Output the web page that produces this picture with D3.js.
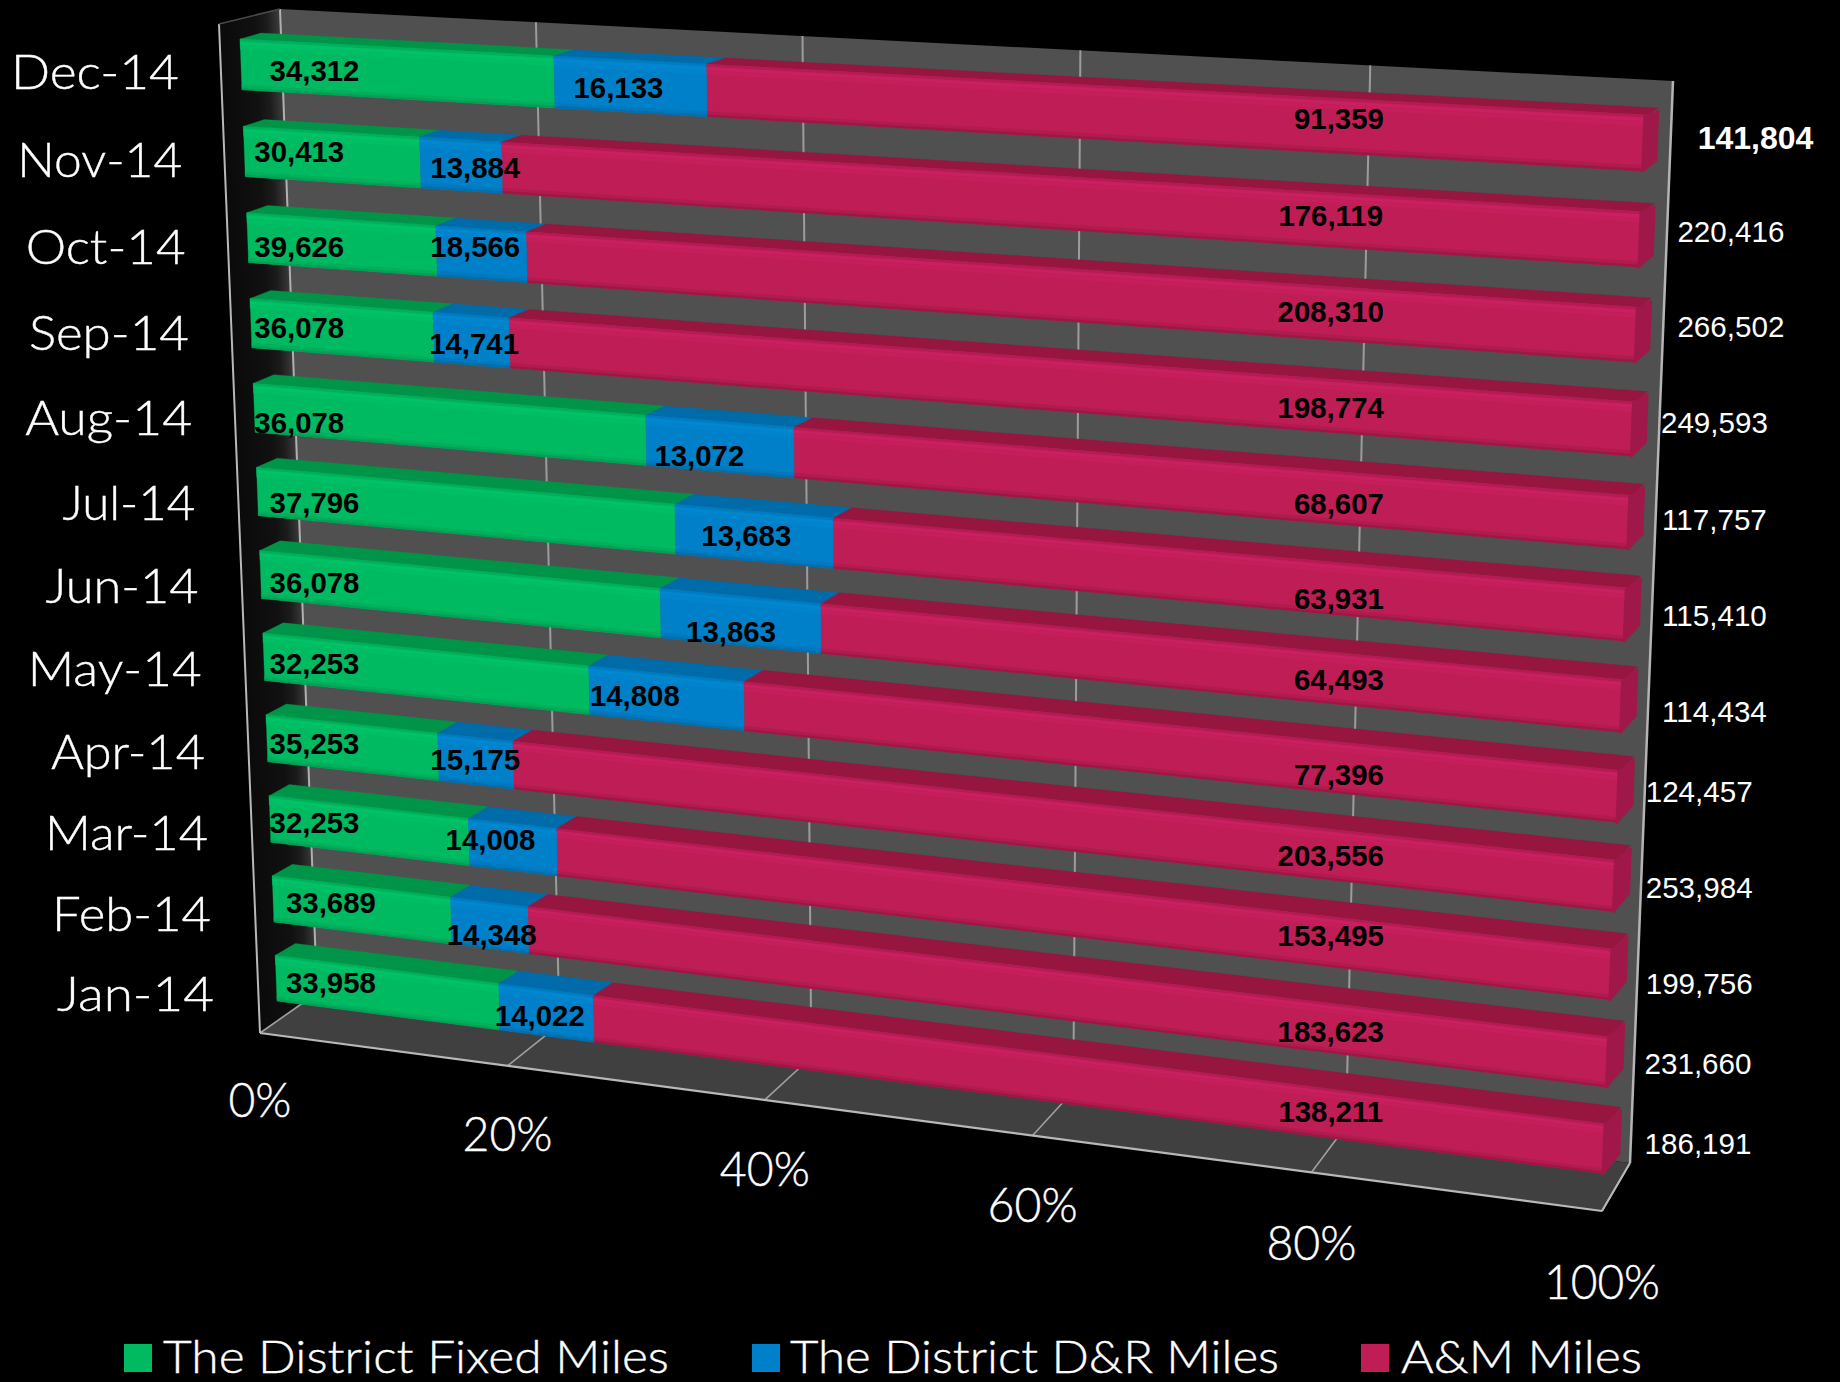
<!DOCTYPE html>
<html><head><meta charset="utf-8">
<script src="https://cdn.jsdelivr.net/npm/d3@7"></script>
<style>html,body{margin:0;background:#000}svg{display:block}</style></head>
<body><svg id="c" width="1840" height="1382"></svg>
<script>
// ---------- data ----------
const categories = ["Dec-14","Nov-14","Oct-14","Sep-14","Aug-14","Jul-14","Jun-14","May-14","Apr-14","Mar-14","Feb-14","Jan-14"];
const fixedMiles = [34312,30413,39626,36078,36078,37796,36078,32253,35253,32253,33689,33958];
const drMiles    = [16133,13884,18566,14741,13072,13683,13863,14808,15175,14008,14348,14022];
const amMiles    = [91359,176119,208310,198774,68607,63931,64493,77396,203556,153495,183623,138211];
const totalMiles = [141804,220416,266502,249593,117757,115410,114434,124457,253984,199756,231660,186191];
const seriesNames = ["The District Fixed Miles","The District D&R Miles","A&M Miles"];
const percentTicks = [0,20,40,60,80,100];

// ---------- layout (hand-placed text boxes of the original, not data) ----------
const catWidths = [168,165,160,160,167,133,153,174,154,163,159,157];
const tickWidths = [63,90,90,90,90,116];
const greenLabelPos = [[268,61],[255,130],[255,211],[255,280],[255,361],[268,429],[268,497],[268,566],[268,634],[268,702],[282,770],[282,838]];
const blueLabelPos = [[527,75],[405,143],[405,211],[404,293],[596,389],[636,457],[623,539],[541,593],[405,648],[418,716],[419,797],[460,866]];
const redLabelPos = [[1141,102],[1134,184],[1134,266],[1134,348],[1141,430],[1141,511],[1141,580],[1141,661],[1134,730],[1134,798],[1134,880],[1134,948]];
const totalLabelPos = [[1496,118],[1475,198],[1475,279],[1461,361],[1461,443],[1461,525],[1461,607],[1448,675],[1448,757],[1448,839],[1447,907],[1447,975]];
const shrink = 1840/1568;
const legendLayout = [{sx:124,tx:163,w:506},{sx:752,tx:790,w:489},{sx:1361,tx:1401,w:241}];

const faceColor  = ["#00ba62","#0080c8","#be1e55"];
const topColor   = ["#009449","#006ba9","#961640"];
const lightColor = ["#00c267","#0087d0","#c92060"];
const shadeColor = ["#00a155","#006fae","#9c1845"];
const sideColor  = ["#00a052","#0070b0","#a0184a"];

// ---------- perspective helpers ----------
function homography(q){ // q: TL,TR,BR,BL; unit square -> quad
  const [[x0,y0],[x1,y1],[x2,y2],[x3,y3]] = q;
  const dx1=x1-x2,dx2=x3-x2,sx=x0-x1+x2-x3,dy1=y1-y2,dy2=y3-y2,sy=y0-y1+y2-y3;
  const det=dx1*dy2-dx2*dy1, g=(sx*dy2-dx2*sy)/det, h=(dx1*sy-sx*dy1)/det;
  const a=x1-x0+g*x1,b=x3-x0+h*x3,d=y1-y0+g*y1,e=y3-y0+h*y3;
  return (u,v)=>{const w=g*u+h*v+1;return [(a*u+b*v+x0)/w,(d*u+e*v+y0)/w];};
}
const wallBack  = homography([[280,9],[1673,81],[1630,1163],[317,993]]);
const wallFront = homography([[219,24],[1640,100],[1602,1211],[260,1033]]);
const barFront  = homography([[240,39],[1647,115],[1605,1174],[277,1001]]);
const barBack   = homography([[261,33],[1658,108],[1619,1157],[297,989]]);

const x = d3.scaleLinear().domain([0,1]).range([0,1]);
const tickScale = d3.scaleLinear().domain([0,100]).range([0,1]);
const y = d3.scaleBand().domain(categories).range([0,1]).paddingInner(0.42).paddingOuter(0);

const table = categories.map((c,i)=>({cat:c,s0:fixedMiles[i],s1:drMiles[i],s2:amMiles[i]}));
const stacked = d3.stack().keys(["s0","s1","s2"]).offset(d3.stackOffsetExpand)(table);

const svg = d3.select("#c");
const line = d3.line();
const poly = pts => line(pts)+"Z";
const defs = svg.append("defs");
const wg = defs.append("linearGradient").attr("id","wallGrad").attr("gradientUnits","userSpaceOnUse")
  .attr("x1",219).attr("y1",24).attr("x2",279).attr("y2",21.6);
[[0,"#0a0a0a"],[0.6,"#111111"],[0.8,"#1c1c1c"],[1,"#3a3a3a"]].forEach(([o,c])=>wg.append("stop").attr("offset",o).attr("stop-color",c));

// ---------- walls ----------
const g = svg.append("g");
g.append("path").attr("d",poly([wallBack(0,0),wallBack(1,0),wallBack(1,1),wallBack(0,1)])).attr("fill","#505050");
g.append("path").attr("d",poly([wallFront(0,0),wallBack(0,0),wallBack(0,1),wallFront(0,1)])).attr("fill","url(#wallGrad)");
g.append("path").attr("d",poly([wallBack(0,1),wallBack(1,1),wallFront(1,1),wallFront(0,1)])).attr("fill","#404040");

const seg=(a,b,w,c)=>g.append("path").attr("d",line([a,b])).attr("stroke",c).attr("stroke-width",w).attr("fill","none");
percentTicks.forEach(t=>{
  const u=tickScale(t);
  seg(wallFront(u,1),wallBack(u,1),1.6,"#a0a0a0");
  if(t<100 && t>0) seg(wallBack(u,0),wallBack(u,1),2,"#9c9c9c");
});
seg(wallBack(0,0),wallBack(0,1),2,"#b0b0b0");
seg(wallBack(1,0),wallBack(1,1),2.5,"#b4b4b4");
seg(wallFront(0,0),wallFront(0,1),2,"#b8b8b8");
seg(wallFront(0,1),wallFront(1,1),2.2,"#b8b8b8");
seg(wallFront(1,1),wallBack(1,1),2,"#b8b8b8");
seg(wallFront(0,0),wallBack(0,0),1.5,"#4a4a4a");

// ---------- bars ----------
const faceBands=[[0,0.05,"tl"],[0.05,0.12,"l"],[0.12,0.2,"lf"],[0.9,0.96,"fs"],[0.96,1,"s"]];
categories.forEach((c,i)=>{
  const vt=y(c), vb=vt+y.bandwidth(), bh=y.bandwidth();
  const row=svg.append("g");
  stacked.forEach((sr,k)=>{
    const u0=x(sr[i][0]),u1=x(sr[i][1]);
    const face=(a,b,col)=>row.append("path").attr("d",poly([barFront(u0,a),barFront(u1,a),barFront(u1,b),barFront(u0,b)]))
      .attr("fill",col).attr("stroke",col).attr("stroke-width",0.3);
    row.append("path").attr("d",poly([barFront(u0,vt),barBack(u0,vt),barBack(u1,vt),barFront(u1,vt)]))
      .attr("fill",topColor[k]).attr("stroke",topColor[k]).attr("stroke-width",0.3);
    face(vt,vb,faceColor[k]);
    const shades={tl:d3.interpolateRgb(topColor[k],lightColor[k])(0.6),l:lightColor[k],
      lf:d3.interpolateRgb(lightColor[k],faceColor[k])(0.5),fs:d3.interpolateRgb(faceColor[k],shadeColor[k])(0.4),s:shadeColor[k]};
    faceBands.forEach(([a,b,key])=>face(vt+bh*a,vt+bh*b,shades[key]));
    if(k===2){
      const inset=0.06*bh;
      row.append("path").attr("d",poly([barFront(0.9985,vt+bh*0.03),barBack(1,vt+inset),barBack(1,vb-inset),barFront(0.9985,vb)]))
        .attr("fill",sideColor[k]).attr("stroke",sideColor[k]).attr("stroke-width",2.5).attr("stroke-linejoin","round");
    }
  });
});

// ---------- text ----------
const geo="Lato, 'Open Sans', sans-serif";
const labelFont="'Liberation Sans', Arial, sans-serif";
const cats=svg.append("g");
categories.forEach((c,i)=>{
  const vm=y(c)+y.bandwidth()/2, p=barFront(0,vm);
  cats.append("text").attr("x",p[0]-62).attr("y",p[1]+8+8*i/11).attr("dy",".35em")
    .attr("text-anchor","end").attr("font-family",geo).attr("font-weight",300).attr("font-size",47)
    .attr("fill","#fff").attr("stroke","#fff").attr("stroke-width",0.4)
    .attr("textLength",catWidths[i]).attr("lengthAdjust","spacingAndGlyphs").text(c);
});
percentTicks.forEach((t,i)=>{
  const p=wallFront(tickScale(t),1);
  svg.append("text").attr("x",p[0]).attr("y",p[1]+68+4*i/5).attr("dy",".35em")
    .attr("text-anchor","middle").attr("font-family",geo).attr("font-weight",300).attr("font-size",47)
    .attr("fill","#fff").attr("stroke","#fff").attr("stroke-width",0.4)
    .attr("textLength",tickWidths[i]).attr("lengthAdjust","spacingAndGlyphs").text(t+"%");
});
const fmt=d3.format(",");
function num(v,pos,col,w,size){
  svg.append("text").attr("x",pos[0]*shrink).attr("y",pos[1]*shrink).attr("dy",".33em").attr("text-anchor","middle")
    .attr("font-family",labelFont).attr("font-size",size).attr("font-weight",w).attr("fill",col).text(fmt(v));
}
fixedMiles.forEach((v,i)=>num(v,greenLabelPos[i],"#000",700,29.4));
drMiles.forEach((v,i)=>num(v,blueLabelPos[i],"#000",700,29.4));
amMiles.forEach((v,i)=>num(v,redLabelPos[i],"#000",700,29.4));
totalMiles.forEach((v,i)=>num(v,totalLabelPos[i],"#fff",i===0?700:400,i===0?32:29.6));

seriesNames.forEach((n,k)=>{
  const L=legendLayout[k];
  svg.append("rect").attr("x",L.sx).attr("y",1344).attr("width",28).attr("height",28).attr("fill",faceColor[k]);
  svg.append("text").attr("x",L.tx).attr("y",1373).attr("font-family",geo).attr("font-weight",300).attr("font-size",45)
    .attr("fill","#fff").attr("stroke","#fff").attr("stroke-width",0.4)
    .attr("textLength",L.w).attr("lengthAdjust","spacingAndGlyphs").text(n);
});
</script></body></html>
